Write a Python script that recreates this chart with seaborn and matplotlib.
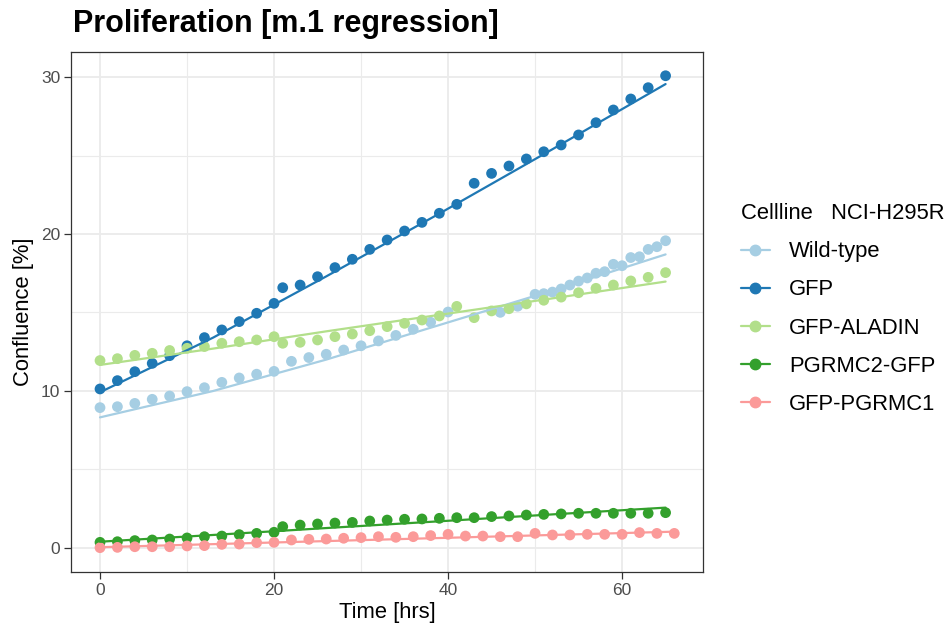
import pandas as pd
import seaborn as sns
import matplotlib.pyplot as plt
from matplotlib.lines import Line2D
from matplotlib.ticker import MultipleLocator

# cell lines + colours (RColorBrewer "Paired")
cell_lines = ["Wild-type", "GFP", "GFP-ALADIN", "PGRMC2-GFP", "GFP-PGRMC1"]
colors = ["#A6CEE3", "#1F78B4", "#B2DF8A", "#33A02C", "#FB9A99"]

# measured confluence [%]
wt_time = [0, 2, 4, 6, 8, 10, 12, 14, 16, 18, 20, 22, 24, 26, 28, 30, 32, 34, 36, 38, 40,
           46, 48, 50, 51, 52, 53, 54, 55, 56, 57, 58, 59, 60, 61, 62, 63, 64, 65]
wt_conf = [8.94, 9.00, 9.21, 9.47, 9.68, 9.96, 10.21, 10.55, 10.83, 11.07, 11.25, 11.89, 12.13,
           12.34, 12.61, 12.88, 13.19, 13.54, 13.93, 14.38, 15.03,
           15.01, 15.40, 16.16, 16.20, 16.30, 16.50, 16.75, 17.00, 17.20, 17.50, 17.60, 18.07,
           17.98, 18.50, 18.55, 19.02, 19.19, 19.57]

gfp_time = [0, 2, 4, 6, 8, 10, 12, 14, 16, 18, 20, 21, 23, 25, 27, 29, 31, 33, 35, 37, 39,
            41, 43, 45, 47, 49, 51, 53, 55, 57, 59, 61, 63, 65]
gfp_conf = [10.13, 10.66, 11.23, 11.76, 12.25, 12.88, 13.40, 13.89, 14.42, 14.95, 15.58, 16.58,
            16.75, 17.28, 17.86, 18.39, 19.02, 19.62, 20.19, 20.74, 21.32, 21.89, 23.23, 23.86,
            24.33, 24.78, 25.24, 25.67, 26.31, 27.09, 27.90, 28.60, 29.32, 30.08]
aladin_conf = [11.94, 12.06, 12.27, 12.40, 12.58, 12.72, 12.83, 13.04, 13.14, 13.25, 13.46, 13.04,
               13.10, 13.25, 13.46, 13.63, 13.84, 14.10, 14.31, 14.52, 14.78, 15.39, 14.67, 15.10,
               15.24, 15.55, 15.78, 15.98, 16.26, 16.54, 16.75, 17.01, 17.24, 17.54]
pgrmc2_conf = [0.36, 0.40, 0.47, 0.51, 0.57, 0.64, 0.72, 0.76, 0.85, 0.93, 1.00, 1.36, 1.46, 1.53,
               1.59, 1.63, 1.72, 1.78, 1.83, 1.85, 1.89, 1.93, 1.93, 2.00, 2.04, 2.10, 2.14, 2.17,
               2.21, 2.21, 2.21, 2.21, 2.21, 2.25]

pgrmc1_time = [0, 2, 4, 6, 8, 10, 12, 14, 16, 18, 20, 22, 24, 26, 28, 30, 32, 34, 36, 38, 40,
               42, 44, 46, 48, 50, 52, 54, 56, 58, 60, 62, 64, 66]
pgrmc1_conf = [0.02, 0.04, 0.08, 0.08, 0.08, 0.13, 0.15, 0.23, 0.25, 0.34, 0.36, 0.51, 0.55, 0.57,
               0.62, 0.66, 0.72, 0.68, 0.72, 0.79, 0.87, 0.76, 0.76, 0.72, 0.72, 0.93, 0.83, 0.83,
               0.87, 0.87, 0.87, 0.98, 0.93, 0.93]

# fitted values of the m.1 model
fit_time = [0, 13, 26, 39, 52, 65]
wt_fit = [8.32, 10.0, 12.0, 14.2, 16.4, 18.7]
gfp_fit = [9.92, 13.4, 17.3, 21.3, 25.4, 29.55]
aladin_fit = [11.66, 12.7, 13.8, 14.85, 15.9, 16.97]
pgrmc2_fit = [0.40, 0.83, 1.27, 1.70, 2.14, 2.57]
pgrmc1_fit_time = [0, 22, 44, 66]
pgrmc1_fit = [0.05, 0.38, 0.71, 1.04]


def make_df(times, values, line):
    return pd.DataFrame({"time": times, "conf": values, "line": line})


points = pd.concat([
    make_df(wt_time, wt_conf, "Wild-type"),
    make_df(gfp_time, gfp_conf, "GFP"),
    make_df(gfp_time, aladin_conf, "GFP-ALADIN"),
    make_df(gfp_time, pgrmc2_conf, "PGRMC2-GFP"),
    make_df(pgrmc1_time, pgrmc1_conf, "GFP-PGRMC1"),
], ignore_index=True)

fits = pd.concat([
    make_df(fit_time, wt_fit, "Wild-type"),
    make_df(fit_time, gfp_fit, "GFP"),
    make_df(fit_time, aladin_fit, "GFP-ALADIN"),
    make_df(fit_time, pgrmc2_fit, "PGRMC2-GFP"),
    make_df(pgrmc1_fit_time, pgrmc1_fit, "GFP-PGRMC1"),
], ignore_index=True)

sns.set_style("white")
plt.rcParams["font.family"] = ["Liberation Sans", "DejaVu Sans"]
plt.rcParams["text.color"] = "black"
plt.rcParams["axes.labelcolor"] = "black"

W, H = 950, 629
fig = plt.figure(figsize=(W / 100, H / 100), dpi=100)
ax = fig.add_axes([71.3 / W, 1 - 571.6 / H, (703 - 71.3) / W, (571.6 - 52.2) / H])

pal = dict(zip(cell_lines, colors))
sns.scatterplot(data=points, x="time", y="conf", hue="line", hue_order=cell_lines,
                palette=pal, s=60, linewidth=0, ax=ax, legend=False, zorder=3)
sns.lineplot(data=fits, x="time", y="conf", hue="line", hue_order=cell_lines,
             palette=pal, lw=1.6, ax=ax, legend=False, zorder=4)

ax.set_xlim(-3.3, 69.3)
ax.set_ylim(-1.504, 31.58)
ax.xaxis.set_major_locator(MultipleLocator(20))
ax.xaxis.set_minor_locator(MultipleLocator(10))
ax.yaxis.set_major_locator(MultipleLocator(10))
ax.yaxis.set_minor_locator(MultipleLocator(5))
ax.grid(which="major", color="#EBEBEB", lw=1.3, zorder=0)
ax.grid(which="minor", color="#EBEBEB", lw=0.8, zorder=0)
ax.set_axisbelow(True)
for sp in ax.spines.values():
    sp.set_visible(True)
    sp.set_color("#333333")
    sp.set_linewidth(0.9)
ax.tick_params(which="major", length=5, width=0.9, color="#333333",
               labelcolor="#4D4D4D", labelsize=12.5, pad=3, bottom=True, left=True)
ax.tick_params(which="minor", length=0)

ax.set_xlabel("Time [hrs]", fontsize=15.8, labelpad=3)
ax.set_ylabel("Confluence [%]", fontsize=15.8, labelpad=5)

fig.text(72.7 / W, 1 - 31.7 / H, "Proliferation [m.1 regression]",
         fontsize=22, fontweight="bold", va="baseline", ha="left", color="black")

handles = [Line2D([0], [0], color=c, lw=1.6, marker="o", markersize=7.5) for c in colors]
fig.legend(handles, cell_lines, title="Cellline   NCI-H295R", loc="center left",
           bbox_to_anchor=(741 / W, 1 - 309 / H), frameon=False, fontsize=15.8,
           title_fontsize=15.8, handlelength=1.3, handletextpad=0.9, labelspacing=0.78,
           borderpad=0, borderaxespad=0, alignment="left")

fig.savefig("out.png", dpi=100)
